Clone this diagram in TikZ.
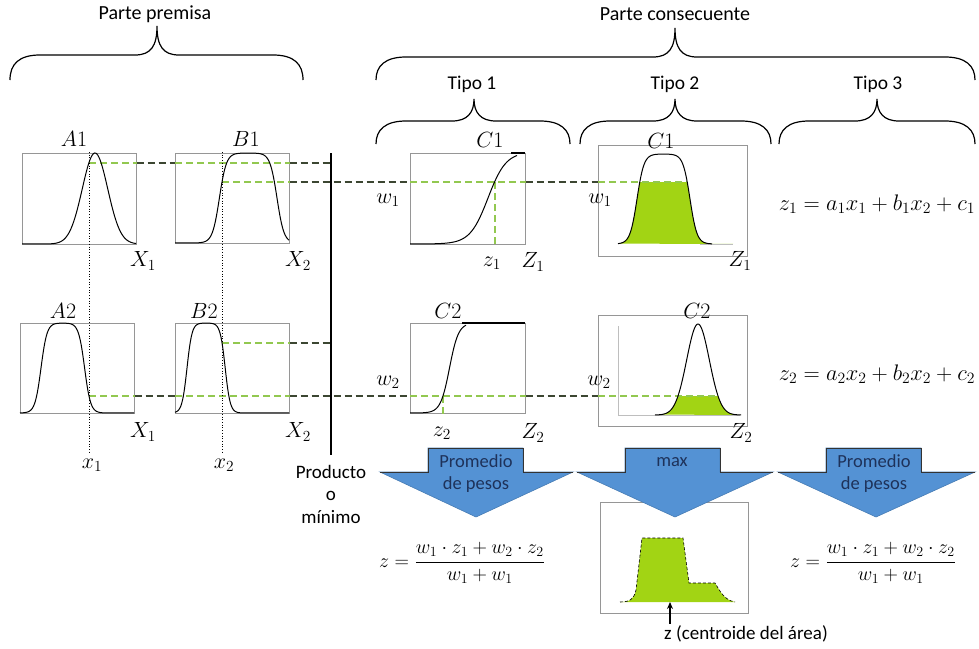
\RequirePackage{fix-cm}
\documentclass[tikz,border=0pt]{standalone}
\usepackage{fontspec}
\setmainfont{Carlito}
\usetikzlibrary{arrows.meta}
\definecolor{lgreen}{RGB}{146,200,80}
\definecolor{fgreen}{RGB}{162,212,20}
\definecolor{dkdash}{RGB}{60,70,50}
\definecolor{arrowblue}{RGB}{84,146,212}
\definecolor{navytxt}{RGB}{30,50,90}
\definecolor{boxgray}{RGB}{150,150,150}
\definecolor{lightax}{RGB}{190,190,190}
\tikzset{
  lbl/.style={inner sep=0pt, font=\fontsize{22}{26}\selectfont},
  eqn/.style={inner sep=0pt, font=\fontsize{22.5}{26}\selectfont},
  txt/.style={inner sep=0pt, font=\fontsize{19}{22.5}\selectfont, align=center},
  tipo/.style={inner sep=0pt, font=\fontsize{19.5}{23}\selectfont},
  arrtxt/.style={inner sep=0pt, font=\fontsize{18.5}{22}\selectfont, text=navytxt, align=center},
  pbox/.style={draw=boxgray, line width=0.7pt, minimum width=#1, inner sep=0pt, anchor=north west},
  mf/.style={black, line width=1pt},
  gdash/.style={lgreen, line width=1.6pt, dash pattern=on 7pt off 4pt},
  kdash/.style={dkdash, line width=1.3pt, dash pattern=on 7pt off 4pt},
  vdot/.style={black, line width=0.7pt, dotted},
  brc/.style={black, line width=1.2pt},
  bluearrow/.style={fill=arrowblue, draw=arrowblue!85!black, line width=0.6pt, line join=miter},
  arrtop/.style={draw=black!80, line width=1pt, line join=miter},
}
\newcommand{\fzbrace}[6]{% x0, x1, xc, y ends, y horizontal, y tip
  \draw[brc] (#1,#4) .. controls (#1,#5+9) and (#1+9,#5) .. (#1+30,#5) -- (#3-22,#5)
    .. controls (#3-6,#5) and (#3,#5-9) .. (#3,#6)
    .. controls (#3,#5-9) and (#3+6,#5) .. (#3+22,#5) -- (#2-30,#5)
    .. controls (#2-9,#5) and (#2,#5+9) .. (#2,#4);}
\begin{document}
\begin{tikzpicture}[x=1pt,y=-1pt,
  declare function={sg(\t)=1/(1+exp(min(9,max(-9,-1*(\t)))));
                    gs(\t)=exp(max(-9,-1*(\t)*(\t)));}]
\useasboundingbox (0,0) rectangle (979,648);

% ---------- titles and braces ----------
\node[inner sep=0pt, font=\fontsize{20}{24}\selectfont] (tprem) at (155,14) {Parte premisa};
\node[inner sep=0pt, font=\fontsize{20}{24}\selectfont] (tcons) at (675,14) {Parte consecuente};
\fzbrace{10}{303}{157}{80}{55}{26}
\fzbrace{376}{975}{675}{80}{57}{28}
\node[tipo] (tt1) at (472,84) {Tipo 1};
\node[tipo] (tt2) at (675,84) {Tipo 2};
\node[tipo] (tt3) at (878,84) {Tipo 3};
\fzbrace{376}{570}{474}{144}{121}{99}
\fzbrace{580}{771}{675}{144}{121}{99}
\fzbrace{779}{975}{877}{144}{121}{99}

% ---------- plot boxes ----------
\node[pbox=114, minimum height=91] (bA1) at (22,153) {};
\node[pbox=114, minimum height=90] (bB1) at (175,153) {};
\node[pbox=114, minimum height=90] (bA2) at (20,323) {};
\node[pbox=114, minimum height=90] (bB2) at (175,323) {};
\node[pbox=115, minimum height=91] (bC1a) at (410,153) {};
\node[pbox=115, minimum height=90] (bC2a) at (410,323) {};
\node[pbox=149, minimum height=111] (bC1b) at (598,145) {};
\node[pbox=149, minimum height=111] (bC2b) at (598,315) {};
\node[pbox=148, minimum height=111] (bOut) at (600,502) {};

% ---------- fills (type 2) ----------
\begin{scope}
  \clip (598,182) rectangle (747,244);
  \fill[fgreen] plot[domain=618:733, samples=120] (\x,{244-90*sg((\x-637)/3.5)*sg((690-\x)/3.5)}) -- cycle;
\end{scope}
\begin{scope}
  \clip (598,396) rectangle (747,415);
  \fill[fgreen] plot[domain=660:738, samples=120] (\x,{415-91*gs((\x-698)/16)}) -- cycle;
\end{scope}

% ---------- key coordinates ----------
\coordinate (pA1) at (89,163);
\coordinate (pB1) at (222,182);
\coordinate (pB2) at (222,343);
\coordinate (pA2) at (89,396);
\coordinate (barT) at (331,153);
\coordinate (barB) at (331,455);
\coordinate (pC1) at (495,182);
\coordinate (pC2) at (443,396);
\coordinate (eC1) at (687,182);
\coordinate (eC2) at (718,396);

% ---------- dashed level lines ----------
\draw[gdash] (pA1) -- (pA1 -| bA1.east);
\draw[kdash] (pA1 -| bA1.east) -- (pA1 -| bB1.west);
\draw[gdash] (pA1 -| bB1.west) -- (pA1 -| bB1.east);
\draw[kdash] (pA1 -| bB1.east) -- (pA1 -| barT);

\draw[gdash] (pB1) -- (pB1 -| bB1.east);
\draw[kdash] (pB1 -| bB1.east) -- (pB1 -| bC1a.west);
\draw[gdash] (pB1 -| bC1a.west) -- (pB1 -| bC1a.east);
\draw[kdash] (pB1 -| bC1a.east) -- (pB1 -| bC1b.west);
\draw[gdash] (pB1 -| bC1b.west) -- (eC1);
\draw[gdash] (pC1) -- (pC1 |- bC1a.south);

\draw[gdash] (pB2) -- (pB2 -| bB2.east);
\draw[kdash] (pB2 -| bB2.east) -- (pB2 -| barT);

\draw[gdash] (pA2) -- (pA2 -| bA2.east);
\draw[kdash] (pA2 -| bA2.east) -- (pA2 -| bB2.west);
\draw[gdash] (pA2 -| bB2.west) -- (pA2 -| bB2.east);
\draw[kdash] (pA2 -| bB2.east) -- (pA2 -| bC2a.west);
\draw[gdash] (pA2 -| bC2a.west) -- (pA2 -| bC2a.east);
\draw[kdash] (pA2 -| bC2a.east) -- (pA2 -| bC2b.west);
\draw[gdash] (pA2 -| bC2b.west) -- (eC2);
\draw[gdash] (pC2) -- (pC2 |- bC2a.south);

% ---------- dotted input lines and bar ----------
\draw[vdot] (89,152) -- (89,453);
\draw[vdot] (222,152) -- (222,453);
\draw[line width=2.5pt] (barT) -- (barB);

% ---------- membership curves ----------
\draw[mf] plot[domain=22:136, samples=120] (\x,{244-91*gs((\x-95)/18)});
\draw[mf] plot[domain=175:289, samples=120] (\x,{243-90*sg((\x-219.4)/3.5)*sg((277-\x)/3.5)});
\draw[mf] plot[domain=20:134, samples=120] (\x,{413-90*sg((\x-41)/3)*sg((84.6-\x)/3)});
\draw[mf] plot[domain=175:289, samples=120] (\x,{413-90*sg((\x-187)/2.5)*sg((225.2-\x)/2.5)});
\draw[mf] plot[domain=410:517, samples=120] (\x,{244-92*sg((\x-488)/9)});
\draw[black, line width=1.8pt] (511,153) -- (525,153);
\draw[mf] plot[domain=410:466, samples=100] (\x,{413-90*sg((\x-449.5)/4.5)});
\draw[black, line width=1.8pt] (462,323) -- (525,323);
\draw[lightax, line width=0.8pt] (700,244) -- (733,244);
\draw[mf] plot[domain=618:712, samples=120] (\x,{244-90*sg((\x-637)/3.5)*sg((690-\x)/3.5)});
\draw[lightax, line width=0.8pt] (618,326) -- (618,415) -- (740,415);
\draw[mf] plot[domain=655:741, samples=120] (\x,{415-91*gs((\x-698)/16)});

% ---------- labels ----------
\node[lbl] (tA1) at (74,139) {$A1$};
\node[lbl] (tB1) at (246,139) {$B1$};
\node[lbl] (tX1a) at (143,261) {$X_1$};
\node[lbl] (tX2a) at (298,261) {$X_2$};
\node[lbl] (tA2) at (63,311) {$A2$};
\node[lbl] (tB2) at (204,311) {$B2$};
\node[lbl] (tX1b) at (143,432) {$X_1$};
\node[lbl] (tX2b) at (298,432) {$X_2$};
\node[lbl] (tx1) at (92,465) {$x_1$};
\node[lbl] (tx2) at (224,465) {$x_2$};
\node[lbl] (tC1a) at (490,140) {$C1$};
\node[lbl] (tw1a) at (388,200) {$w_1$};
\node[lbl] (tz1) at (492,263) {$z_1$};
\node[lbl] (tZ1a) at (533,262) {$Z_1$};
\node[lbl] (tC2a) at (448,311) {$C2$};
\node[lbl] (tw2a) at (388,382) {$w_2$};
\node[lbl] (tz2) at (442,433) {$z_2$};
\node[lbl] (tZ2a) at (533,433) {$Z_2$};
\node[lbl] (tC1b) at (661,141) {$C1$};
\node[lbl] (tw1b) at (600,200) {$w_1$};
\node[lbl] (tZ1b) at (740,261) {$Z_1$};
\node[lbl] (tC2b) at (697,311) {$C2$};
\node[lbl] (tw2b) at (599,382) {$w_2$};
\node[lbl] (tZ2b) at (741,433) {$Z_2$};
\node[eqn] (eq1) at (877,204) {$z_1 = a_1x_1 + b_1x_2 + c_1$};
\node[eqn] (eq2) at (877,374) {$z_2 = a_2x_2 + b_2x_2 + c_2$};
\node[txt] (prod) at (331,494) {Producto\\o\\mínimo};

% ---------- aggregated output ----------
\fill[fgreen] (620,602) .. controls (630,602) and (634,599) .. (636,590) -- (642,538) -- (683,538)
  -- (689,583) -- (715,583) .. controls (720,591) and (724,600) .. (735,602) -- cycle;
\draw[black, line width=0.6pt, densely dashed] (620,602) .. controls (630,602) and (634,599) .. (636,590) -- (642,538) -- (683,538)
  -- (689,583) -- (715,583) .. controls (720,591) and (724,600) .. (735,602);

% ---------- blue arrows ----------
\path[bluearrow] (380,472) -- (428,472) -- (428,448) -- (523,448) -- (523,472) -- (573,472) -- (476,517) -- cycle;
\draw[arrtop] (380,472) -- (428,472) -- (428,448) -- (523,448) -- (523,472) -- (573,472);
\path[bluearrow] (577,472) -- (625,472) -- (625,448) -- (720,448) -- (720,472) -- (773,472) -- (675,517) -- cycle;
\draw[arrtop] (577,472) -- (625,472) -- (625,448) -- (720,448) -- (720,472) -- (773,472);
\path[bluearrow] (778,472) -- (826,472) -- (826,448) -- (921,448) -- (921,472) -- (975,472) -- (876,517) -- cycle;
\draw[arrtop] (778,472) -- (826,472) -- (826,448) -- (921,448) -- (921,472) -- (975,472);
\node[arrtxt] (a1t) at (476,474) {Promedio\\de pesos};
\node[arrtxt] (a2t) at (672,462) {max};
\node[arrtxt] (a3t) at (874,474) {Promedio\\de pesos};

% ---------- formulas ----------
\node[inner sep=0pt, font=\fontsize{20}{23}\selectfont] (f1) at (462,563) {$z = \displaystyle\frac{w_1\cdot z_1 + w_2\cdot z_2}{w_1 + w_1}$};
\node[inner sep=0pt, font=\fontsize{20}{23}\selectfont] (f3) at (873,563) {$z = \displaystyle\frac{w_1\cdot z_1 + w_2\cdot z_2}{w_1 + w_1}$};

% ---------- centroid ----------
\node[txt] (cent) at (746,634) {z (centroide del área)};
\coordinate (cenTip) at (670,602);
\draw[-{Stealth[length=7pt,width=6pt]}, line width=1.6pt] (cent.north -| cenTip) ++(0,-2) -- (cenTip);
\end{tikzpicture}
\end{document}
